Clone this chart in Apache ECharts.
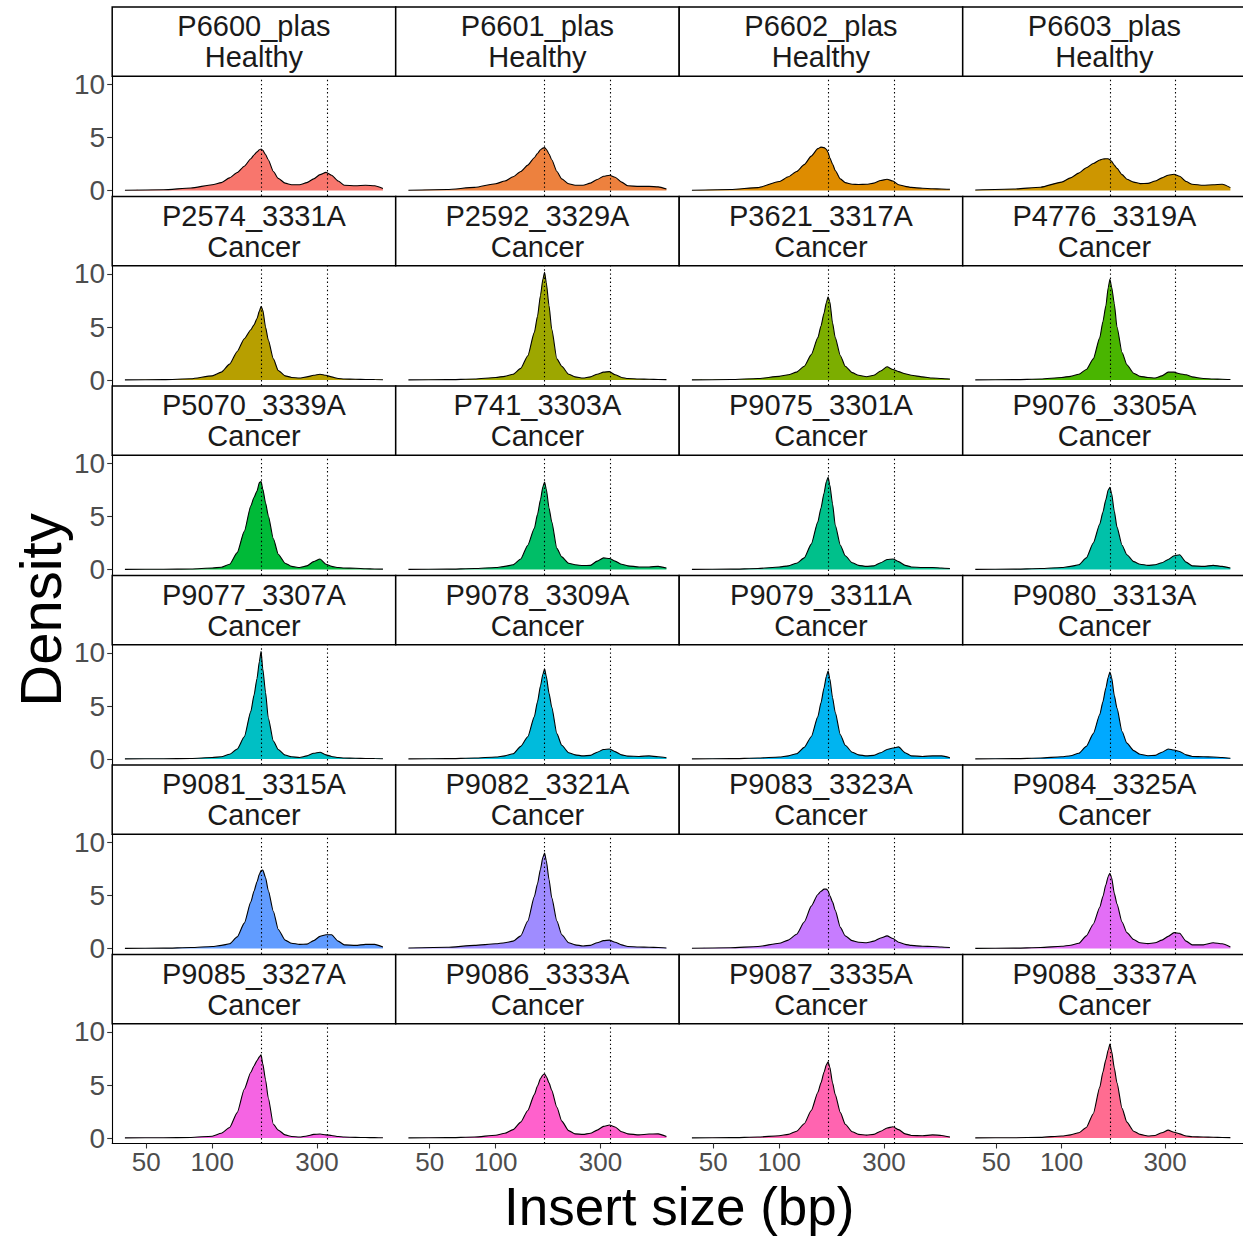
<!DOCTYPE html>
<html><head><meta charset="utf-8">
<script src="https://cdn.jsdelivr.net/npm/echarts@6/dist/echarts.min.js"></script>
<style>html,body{margin:0;padding:0;background:#fff}#c{width:1243px;height:1238px}</style>
</head><body><div id="c"></div>
<script>
// ---- data ----
const insertSizes = [40,60,80,100,110,120,130,140,150,155,160,164,167,170,175,180,190,200,215,230,250,270,290,310,330,350,375,400,450,500,550,600];
const sampleNames = ["P6600_plas","P6601_plas","P6602_plas","P6603_plas","P2574_3331A","P2592_3329A","P3621_3317A","P4776_3319A","P5070_3339A","P741_3303A","P9075_3301A","P9076_3305A","P9077_3307A","P9078_3309A","P9079_3311A","P9080_3313A","P9081_3315A","P9082_3321A","P9083_3323A","P9084_3325A","P9085_3327A","P9086_3333A","P9087_3335A","P9088_3337A"];
const sampleGroups = ["Healthy","Healthy","Healthy","Healthy","Cancer","Cancer","Cancer","Cancer","Cancer","Cancer","Cancer","Cancer","Cancer","Cancer","Cancer","Cancer","Cancer","Cancer","Cancer","Cancer","Cancer","Cancer","Cancer","Cancer"];
const xTickValues = [50, 100, 300];
const yTickValues = [0, 5, 10];
const referenceSizes = [167, 334];

const dens_P6600_plas = [0.03,0.08,0.25,0.55,0.75,1.2,1.7,2.3,3.0,3.35,3.65,3.85,3.92,3.8,3.4,2.9,1.8,1.15,0.7,0.55,0.55,0.75,1.1,1.5,1.72,1.45,0.9,0.5,0.45,0.5,0.45,0.2];
const dens_P6601_plas = [0.03,0.1,0.3,0.65,0.9,1.3,1.8,2.4,3.1,3.5,3.85,4.0,4.05,3.9,3.45,2.9,1.8,1.1,0.65,0.5,0.5,0.7,1.05,1.35,1.45,1.25,0.8,0.45,0.4,0.4,0.35,0.15];
const dens_P6602_plas = [0.03,0.1,0.28,0.85,1.3,1.8,2.45,3.25,3.95,4.1,4.05,3.9,3.6,3.1,2.5,1.9,1.1,0.75,0.6,0.58,0.6,0.7,0.95,1.07,0.9,0.55,0.4,0.3,0.22,0.18,0.15,0.12];
const dens_P6603_plas = [0.05,0.15,0.32,0.8,1.2,1.65,2.15,2.55,2.88,2.97,3.0,3.0,2.92,2.75,2.4,2.1,1.5,1.07,0.8,0.66,0.68,0.9,1.2,1.45,1.54,1.35,0.85,0.6,0.5,0.55,0.6,0.28];
const dens_P2574_3331A = [0.02,0.04,0.12,0.4,0.75,1.5,2.7,3.9,4.75,5.2,5.8,6.5,6.95,6.6,5.0,3.8,2.0,0.9,0.4,0.25,0.2,0.3,0.45,0.55,0.45,0.3,0.15,0.1,0.08,0.06,0.05,0.03];
const dens_P2592_3329A = [0.02,0.04,0.1,0.25,0.35,0.55,1.1,2.3,4.5,6.0,8.0,9.5,10.15,9.2,7.0,4.8,2.0,1.3,0.55,0.3,0.2,0.3,0.55,0.75,0.8,0.5,0.25,0.15,0.1,0.08,0.06,0.04];
const dens_P3621_3317A = [0.02,0.05,0.15,0.35,0.5,0.75,1.3,2.4,4.0,5.1,6.3,7.3,7.85,7.4,5.4,4.0,2.3,1.3,0.7,0.45,0.32,0.45,0.85,1.25,1.0,0.8,0.6,0.45,0.3,0.2,0.15,0.1];
const dens_P4776_3319A = [0.02,0.04,0.1,0.25,0.35,0.55,1.0,2.0,4.0,5.5,7.0,8.7,9.5,8.8,7.2,5.0,2.6,1.45,0.65,0.35,0.25,0.2,0.4,0.75,0.75,0.6,0.5,0.3,0.15,0.1,0.08,0.05];
const dens_P5070_3339A = [0.02,0.03,0.06,0.15,0.22,0.5,1.6,3.6,6.0,6.8,7.4,8.2,8.3,7.6,6.3,5.1,2.9,1.45,0.6,0.3,0.2,0.35,0.75,1.0,0.5,0.3,0.2,0.15,0.12,0.08,0.06,0.04];
const dens_P741_3303A = [0.02,0.04,0.1,0.2,0.3,0.45,1.0,2.3,3.9,5.2,6.6,7.8,8.25,7.6,5.8,4.5,2.0,1.2,0.6,0.45,0.38,0.4,0.8,1.1,1.05,0.8,0.5,0.35,0.25,0.25,0.3,0.15];
const dens_P9075_3301A = [0.02,0.04,0.1,0.25,0.35,0.6,1.1,2.4,4.5,5.8,7.2,8.3,8.7,8.0,6.2,4.2,2.3,1.3,0.65,0.4,0.3,0.35,0.65,0.95,1.0,0.75,0.4,0.25,0.2,0.2,0.15,0.1];
const dens_P9076_3305A = [0.02,0.04,0.1,0.2,0.3,0.45,1.1,2.5,4.3,5.4,6.6,7.5,7.75,7.2,5.5,4.0,2.3,1.4,0.75,0.5,0.4,0.45,0.65,0.95,1.3,1.4,0.7,0.35,0.3,0.4,0.3,0.15];
const dens_P9077_3307A = [0.02,0.03,0.06,0.15,0.22,0.45,0.95,2.1,4.5,6.0,7.6,9.2,10.15,8.5,6.3,3.9,1.7,0.9,0.38,0.22,0.15,0.3,0.55,0.65,0.4,0.25,0.15,0.1,0.08,0.06,0.05,0.03];
const dens_P9078_3309A = [0.02,0.04,0.1,0.2,0.3,0.5,1.2,2.1,4.0,5.4,6.9,8.0,8.5,7.8,6.2,4.9,2.4,1.3,0.6,0.4,0.3,0.35,0.65,0.9,0.95,0.7,0.4,0.28,0.25,0.3,0.22,0.12];
const dens_P9079_3311A = [0.02,0.04,0.1,0.2,0.3,0.5,1.1,2.1,4.0,5.3,6.7,7.8,8.3,7.6,5.8,4.4,2.3,1.3,0.65,0.4,0.3,0.35,0.6,0.9,1.05,1.15,0.6,0.3,0.25,0.3,0.3,0.12];
const dens_P9080_3313A = [0.02,0.04,0.1,0.22,0.32,0.55,1.2,2.4,4.2,5.4,6.7,7.7,8.2,7.7,6.0,4.8,2.6,1.5,0.8,0.45,0.32,0.35,0.65,0.95,0.85,0.72,0.4,0.25,0.22,0.2,0.15,0.08];
const dens_P9081_3315A = [0.02,0.04,0.1,0.2,0.3,0.45,1.1,2.4,4.4,5.4,6.3,7.0,7.35,7.4,6.7,5.5,3.5,1.8,0.8,0.5,0.4,0.42,0.75,1.15,1.3,1.3,0.7,0.35,0.3,0.4,0.4,0.15];
const dens_P9082_3321A = [0.05,0.12,0.3,0.45,0.55,0.7,1.2,2.6,4.9,6.1,7.5,8.6,9.0,8.3,6.5,4.8,2.6,1.3,0.55,0.35,0.25,0.3,0.55,0.75,0.8,0.6,0.35,0.2,0.15,0.12,0.1,0.06];
const dens_P9083_3323A = [0.03,0.08,0.2,0.5,0.8,1.35,2.5,4.0,5.1,5.4,5.6,5.6,5.45,5.0,4.4,3.6,2.0,1.2,0.75,0.6,0.55,0.7,1.0,1.2,0.95,0.6,0.4,0.3,0.22,0.2,0.15,0.1];
const dens_P9084_3325A = [0.02,0.04,0.1,0.22,0.32,0.5,1.2,2.3,3.9,4.9,6.0,6.8,7.1,6.7,5.2,4.2,2.5,1.5,0.85,0.55,0.47,0.55,0.8,1.15,1.5,1.45,0.7,0.35,0.35,0.55,0.45,0.15];
const dens_P9085_3327A = [0.02,0.03,0.06,0.18,0.45,1.0,2.4,4.6,6.2,6.8,7.3,7.65,7.85,7.0,5.5,3.8,1.3,0.75,0.3,0.15,0.1,0.2,0.35,0.38,0.3,0.25,0.15,0.1,0.07,0.05,0.04,0.03];
const dens_P9086_3333A = [0.02,0.04,0.1,0.27,0.45,0.8,1.5,2.6,4.1,4.9,5.6,5.95,6.05,5.8,5.2,4.5,2.9,1.6,0.7,0.4,0.35,0.45,0.75,1.1,1.23,1.05,0.6,0.4,0.3,0.38,0.4,0.15];
const dens_P9087_3335A = [0.02,0.04,0.1,0.22,0.35,0.65,1.35,2.6,4.3,5.2,6.2,6.9,7.2,6.7,5.2,4.1,2.4,1.3,0.6,0.35,0.28,0.35,0.65,0.95,1.07,0.8,0.4,0.25,0.22,0.3,0.25,0.1];
const dens_P9088_3337A = [0.02,0.03,0.07,0.2,0.3,0.5,1.0,2.3,4.8,6.2,7.4,8.3,8.85,8.2,6.6,5.2,2.8,1.5,0.65,0.35,0.2,0.25,0.5,0.75,0.55,0.4,0.2,0.12,0.1,0.08,0.06,0.04];

const densities = [dens_P6600_plas,dens_P6601_plas,dens_P6602_plas,dens_P6603_plas,dens_P2574_3331A,dens_P2592_3329A,dens_P3621_3317A,dens_P4776_3319A,dens_P5070_3339A,dens_P741_3303A,dens_P9075_3301A,dens_P9076_3305A,dens_P9077_3307A,dens_P9078_3309A,dens_P9079_3311A,dens_P9080_3313A,dens_P9081_3315A,dens_P9082_3321A,dens_P9083_3323A,dens_P9084_3325A,dens_P9085_3327A,dens_P9086_3333A,dens_P9087_3335A,dens_P9088_3337A];

// ---- ggplot-like hue palette (hcl, l=65, c=100) ----
function hcl(h, c, l) {
  const WY = 100, Wu = 0.1978398, Wv = 0.4683363;
  const hr = h * Math.PI / 180;
  const U = c * Math.cos(hr), V = c * Math.sin(hr);
  const Y = WY * (l > 7.999592 ? Math.pow((l + 16) / 116, 3) : l / 903.3);
  const u = U / (13 * l) + Wu, v = V / (13 * l) + Wv;
  const X = 9 * Y * u / (4 * v);
  const Z = -X / 3 - 5 * Y + 3 * Y / v;
  const g = x => x > 0.00304 ? 1.055 * Math.pow(x, 1 / 2.4) - 0.055 : 12.92 * x;
  const cl = x => Math.max(0, Math.min(1, x));
  const r = cl(g((3.240479 * X - 1.537150 * Y - 0.498535 * Z) / WY));
  const gg = cl(g((-0.969256 * X + 1.875992 * Y + 0.041556 * Z) / WY));
  const b = cl(g((0.055648 * X - 0.204043 * Y + 1.057311 * Z) / WY));
  const hx = x => ('0' + Math.round(255 * x).toString(16)).slice(-2);
  return '#' + hx(r) + hx(gg) + hx(b);
}
const n = sampleNames.length;
const fills = sampleNames.map((_, i) => hcl(15 + 360 * i / n, 100, 65));

// ---- layout ----
const nCol = 4, nRow = 6;
const L0 = 112.2, colW = 283.5;
const stripTop0 = 7, stripH = 69.3, rowStep = 189.5, panelH = 119.7;
const textFont = "'Liberation Sans', Arial, Helvetica, sans-serif";

const grids = [], xAxes = [], yAxes = [], series = [], graphics = [];
for (let i = 0; i < n; i++) {
  const r = Math.floor(i / nCol), c = i % nCol;
  const left = L0 + colW * c;
  const sTop = stripTop0 + rowStep * r;
  const pTop = sTop + stripH;
  const isLeft = c === 0, isBottom = r === nRow - 1;
  grids.push({ left: left, top: pTop, width: colW, height: panelH, containLabel: false });
  xAxes.push({
    type: 'log', logBase: 10, gridIndex: i, min: 35, max: 686,
    axisLine: { show: isBottom, onZero: false, lineStyle: { color: '#000', width: 1.1 } },
    axisTick: { show: isBottom, customValues: xTickValues, length: 5, lineStyle: { color: '#333', width: 1.1 } },
    axisLabel: { show: isBottom, customValues: xTickValues, fontSize: 26, lineHeight: 24, color: '#4D4D4D', margin: 6, fontFamily: textFont },
    splitLine: { show: false }, minorTick: { show: false }, minorSplitLine: { show: false }
  });
  yAxes.push({
    type: 'value', gridIndex: i, min: -0.51, max: 10.77,
    axisLine: { show: isLeft, onZero: false, lineStyle: { color: '#000', width: 1.1 } },
    axisTick: { show: isLeft, customValues: yTickValues, length: 5, lineStyle: { color: '#333', width: 1.1 } },
    axisLabel: { show: isLeft, customValues: yTickValues, fontSize: 28, color: '#4D4D4D', margin: 7, fontFamily: textFont },
    splitLine: { show: false }
  });
  series.push({
    type: 'line', name: sampleNames[i], xAxisIndex: i, yAxisIndex: i,
    data: insertSizes.map((x, j) => [x, densities[i][j]]),
    symbol: 'none', smooth: 0.2, smoothMonotone: 'x',
    lineStyle: { color: '#000', width: 1.1 },
    areaStyle: { color: fills[i], opacity: 1 },
    markLine: {
      silent: true, symbol: ['none', 'none'], label: { show: false },
      lineStyle: { color: '#000', type: [1.4, 2.7], width: 1.1 },
      data: referenceSizes.map(v => ({ xAxis: v }))
    }
  });
  graphics.push({
    type: 'rect', shape: { x: left, y: sTop, width: colW, height: stripH },
    style: { fill: '#fff', stroke: '#000', lineWidth: 1.5 }, silent: true
  });
  graphics.push({
    type: 'text', x: left + colW / 2, y: sTop + stripH / 2, silent: true,
    style: { text: sampleNames[i] + '\n' + sampleGroups[i], textAlign: 'center', textVerticalAlign: 'middle',
      fontSize: 29, lineHeight: 31, fontFamily: textFont, fill: '#1A1A1A' }
  });
}
graphics.push({
  type: 'text', x: 40, y: 610, rotation: Math.PI / 2, silent: true,
  style: { text: 'Density', textAlign: 'center', textVerticalAlign: 'middle', fontSize: 58, lineHeight: 48, fontFamily: textFont, fill: '#000' }
});
graphics.push({
  type: 'text', x: L0 + colW * 2, y: 1206, silent: true,
  style: { text: 'Insert size (bp)', textAlign: 'center', textVerticalAlign: 'middle', fontSize: 53, lineHeight: 44, fontFamily: textFont, fill: '#000' }
});

const chart = echarts.init(document.getElementById('c'), null, { renderer: 'svg' });
chart.setOption({
  backgroundColor: '#fff', animation: false,
  grid: grids, xAxis: xAxes, yAxis: yAxes, series: series, graphic: graphics
});
</script></body></html>
